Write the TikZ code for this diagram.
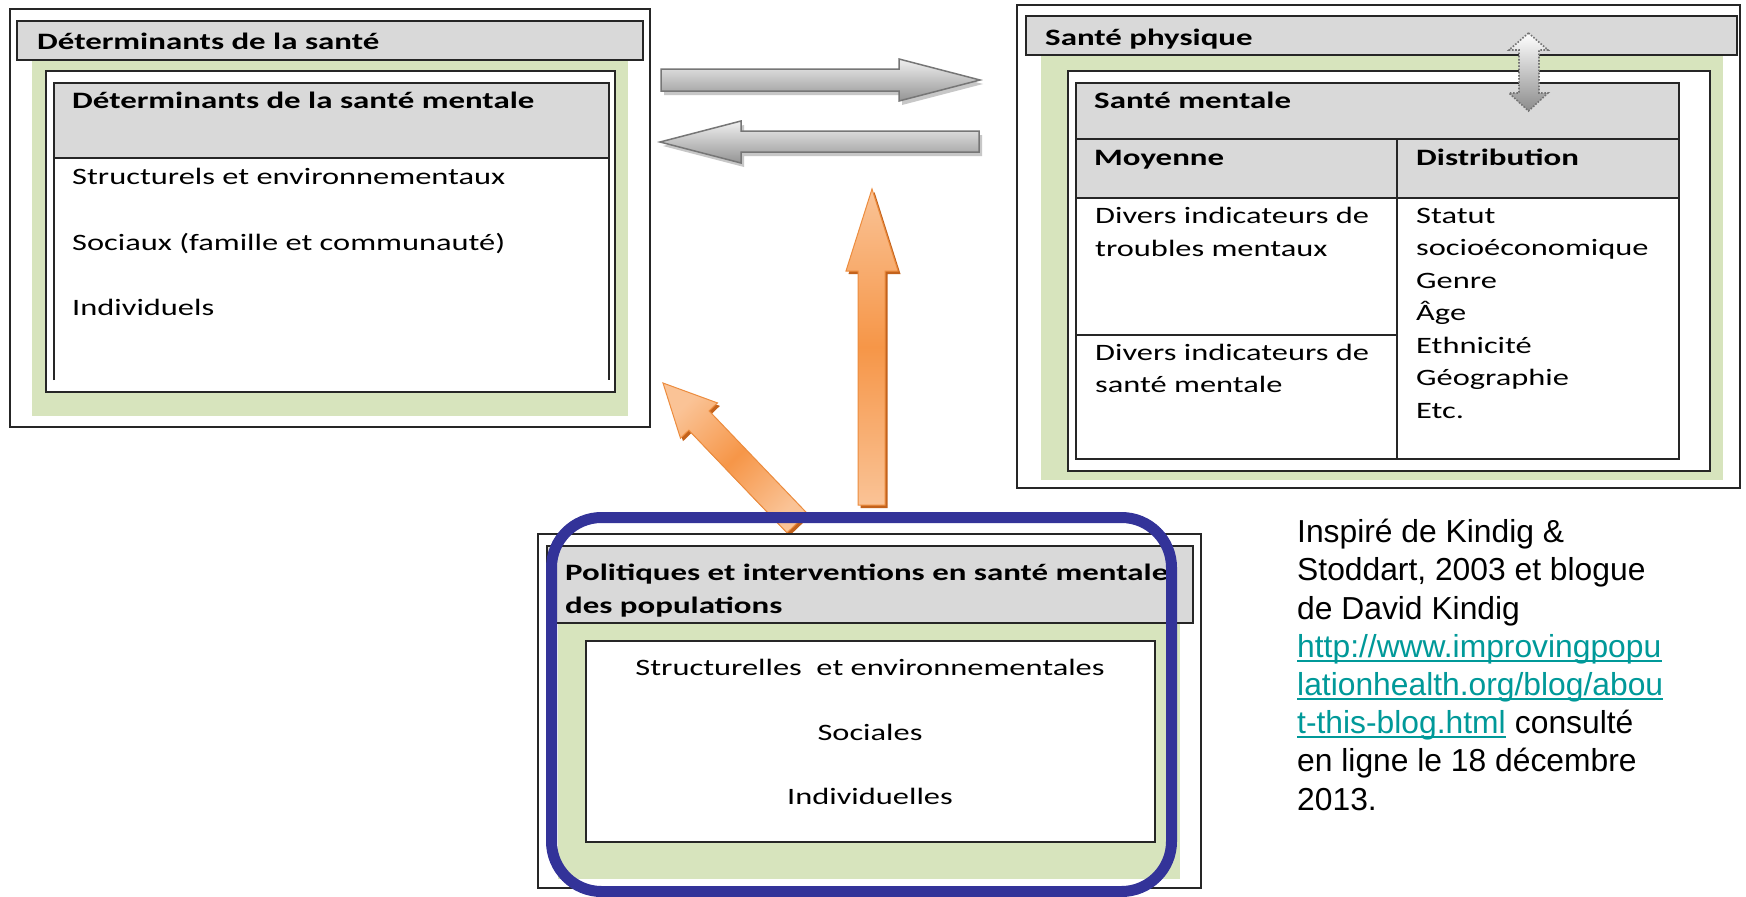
\documentclass[tikz,border=0pt]{standalone}
\usepackage{fontspec}
\usepackage{graphicx}
\setmainfont{Carlito}
\newfontfamily\arialfont{Liberation Sans}
\definecolor{hdrgray}{RGB}{217,217,217}
\definecolor{boxgreen}{RGB}{215,228,189}
\definecolor{lineblk}{RGB}{38,38,38}
\definecolor{polblue}{RGB}{51,51,153}
\definecolor{linkteal}{RGB}{0,153,153}
\definecolor{orL}{RGB}{250,195,150}
\definecolor{orM}{RGB}{246,150,72}
\definecolor{orD}{RGB}{195,98,28}
\definecolor{orEdge}{RGB}{236,140,62}
\definecolor{grEdge}{RGB}{118,118,118}
\newcommand{\rt}[1]{\scalebox{1.38}[1]{#1}}
\newcommand{\bt}[1]{\scalebox{1.40}[1]{\bfseries #1}}
\begin{document}
\begin{tikzpicture}[x=1pt,y=-1pt,line join=miter,
  outerbox/.style={draw=lineblk,line width=1.5,fill=white},
  hdrbox/.style={draw=lineblk,line width=2,fill=hdrgray},
  innerbox/.style={draw=lineblk,line width=2,fill=white},
  tline/.style={draw=lineblk,line width=2},
  txt/.style={anchor=base west,inner sep=0,font=\fontsize{23.5}{28}\selectfont},
  ctxt/.style={anchor=base,inner sep=0,font=\fontsize{23.5}{28}\selectfont},
  cite/.style={anchor=base west,inner sep=0,font=\arialfont\fontsize{31.8}{38}\selectfont},
  grayarrow/.style={draw=grEdge,line width=1.5,top color=black!6,bottom color=black!42},
  grayshadow/.style={fill=black!22},
  orarrow/.style={draw=orEdge,line width=1,top color=orL,bottom color=orL,middle color=orM},
  orshadow/.style={fill=orD},
  dblarrow/.style={draw=black!55,line width=1.6,dash pattern=on 1.6pt off 1.6pt,top color=white,bottom color=black!45},
  polframe/.style={draw=polblue,line width=11,rounded corners=50},
  linkline/.style={draw=linkteal,line width=2.2}]
\useasboundingbox (0,0) rectangle (1746,897);
\fill[white] (0,0) rectangle (1746,897);

% ---------------- left group
\draw[outerbox] (10,9) rectangle (650,427);
\fill[boxgreen] (32,60) rectangle (628,416);
\draw[hdrbox] (17,21) rectangle (643,60);
\draw[innerbox] (46,71) rectangle (615,392);
\fill[hdrgray] (54,83) rectangle (609,158);
\draw[tline] (54,380) -- (54,83) -- (609,83) -- (609,380);
\draw[tline] (54,158) -- (609,158);
\node[txt] (dsh) at (37,49) {\bt{Déterminants de la santé}};
\node[txt] (dsm) at (72,108) {\bt{Déterminants de la santé mentale}};
\node[txt] (dse) at (72,184) {\rt{Structurels et environnementaux}};
\node[txt] (dso) at (72,250) {\rt{Sociaux (famille et communauté)}};
\node[txt] (din) at (72,315) {\rt{Individuels}};

% ---------------- right group
\draw[outerbox] (1017,5) rectangle (1740,488);
\fill[boxgreen] (1041,55) rectangle (1723,480);
\draw[hdrbox] (1026,16) rectangle (1737,55);
\draw[innerbox] (1068,71) rectangle (1710,471);
\fill[hdrgray] (1076,83) rectangle (1679,198);
\draw[tline] (1076,83) rectangle (1679,459);
\draw[tline] (1076,139) -- (1679,139);
\draw[tline] (1076,198) -- (1679,198);
\draw[tline] (1397,139) -- (1397,459);
\draw[tline] (1076,335) -- (1397,335);
\node[txt] (sph) at (1045,45) {\bt{Santé physique}};
\node[txt] (sme) at (1094,108) {\bt{Santé mentale}};
\node[txt] (moy) at (1094,165) {\bt{Moyenne}};
\node[txt] (dis) at (1416,165) {\bt{Distribution}};
\node[txt] (dv1) at (1095,223) {\rt{Divers indicateurs de}};
\node[txt] (dv2) at (1095,256) {\rt{troubles mentaux}};
\node[txt] (dv3) at (1095,360) {\rt{Divers indicateurs de}};
\node[txt] (dv4) at (1095,392.5) {\rt{santé mentale}};
\node[txt] (r1) at (1416,223) {\rt{Statut}};
\node[txt] (r2) at (1416,255.5) {\rt{socioéconomique}};
\node[txt] (r3) at (1416,288) {\rt{Genre}};
\node[txt] (r4) at (1416,320.5) {\rt{Âge}};
\node[txt] (r5) at (1416,353) {\rt{Ethnicité}};
\node[txt] (r6) at (1416,385.5) {\rt{Géographie}};
\node[txt] (r7) at (1416,418) {\rt{Etc.}};

% ---------------- gray arrows
\begin{scope}[shift={(3,4)}]
\fill[grayshadow] (661,69) -- (899,69) -- (899,59) -- (980,80) -- (899,101) -- (899,91) -- (661,91) -- cycle;
\fill[grayshadow] (660,142) -- (741,121) -- (741,131) -- (979,131) -- (979,152) -- (741,152) -- (741,163) -- cycle;
\end{scope}
\draw[grayarrow] (661,69) -- (899,69) -- (899,59) -- (980,80) -- (899,101) -- (899,91) -- (661,91) -- cycle;
\draw[grayarrow] (660,142) -- (741,121) -- (741,131) -- (979,131) -- (979,152) -- (741,152) -- (741,163) -- cycle;

% ---------------- dotted double arrow
\draw[dblarrow] (1528.5,33) -- (1548,50) -- (1539,50) -- (1539,93) -- (1548,93) -- (1528.5,111) -- (1509,93) -- (1519,93) -- (1519,50) -- (1509,50) -- cycle;

% ---------------- orange arrows
\begin{scope}[shift={(2.5,3)}]
\fill[orshadow] (872,189) -- (898,271) -- (885,271) -- (885,505) -- (858,505) -- (858,271) -- (846,271) -- cycle;
\fill[orshadow] (663,383) -- (717.4,402.9) -- (709.1,410.9) -- (807.2,513.4) -- (787.0,532.8) -- (688.8,430.2) -- (680.5,438.2) -- cycle;
\end{scope}
\draw[orarrow] (872,189) -- (898,271) -- (885,271) -- (885,505) -- (858,505) -- (858,271) -- (846,271) -- cycle;
\draw[orarrow,shading angle=43.75] (663,383) -- (717.4,402.9) -- (709.1,410.9) -- (807.2,513.4) -- (787.0,532.8) -- (688.8,430.2) -- (680.5,438.2) -- cycle;

% ---------------- bottom group
\draw[outerbox] (538,534) rectangle (1201,888);
\fill[boxgreen] (558,623) rectangle (1180,879);
\draw[hdrbox] (547,546) rectangle (1193,623);
\draw[innerbox] (586,641) rectangle (1155,842);
\node[txt] (pol1) at (565,580) {\bt{Politiques et interventions en santé mentale}};
\node[txt] (pol2) at (565,613) {\bt{des populations}};
\node[ctxt] (pse) at (870,675) {\rt{Structurelles\ \ et environnementales}};
\node[ctxt] (pso) at (870,740) {\rt{Sociales}};
\node[ctxt] (pin) at (870,804) {\rt{Individuelles}};
\draw[polframe] (551.5,517.5) rectangle (1171.5,891.5);

% ---------------- citation
\node[cite] (c1) at (1297,542.7) {Inspiré de Kindig \&};
\node[cite] (c2) at (1297,580.9) {Stoddart, 2003 et blogue};
\node[cite] (c3) at (1297,619.1) {de David Kindig};
\node[cite,text=linkteal] (c4) at (1297,657.3) {http://www.improvingpopu};
\node[cite,text=linkteal] (c5) at (1297,695.5) {lationhealth.org/blog/abou};
\node[cite,text=linkteal] (c6) at (1297,733.7) {t-this-blog.html};
\node[cite] (c6b) at (c6.base east) {\ consulté};
\node[cite] (c7) at (1297,771.9) {en ligne le 18 décembre};
\node[cite] (c8) at (1297,810.1) {2013.};
\draw[linkline] ([yshift=-3.5pt]c4.base west) -- ([yshift=-3.5pt]c4.base east);
\draw[linkline] ([yshift=-3.5pt]c5.base west) -- ([yshift=-3.5pt]c5.base east);
\draw[linkline] ([yshift=-3.5pt]c6.base west) -- ([yshift=-3.5pt]c6.base east);
\end{tikzpicture}
\end{document}
